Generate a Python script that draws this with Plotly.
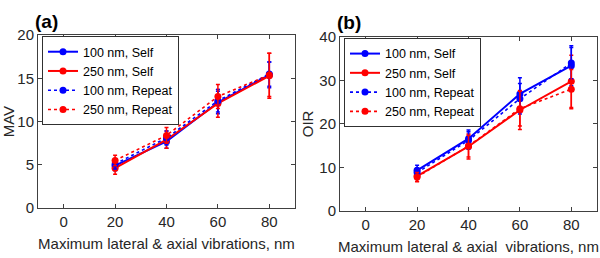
import plotly.graph_objects as go

x_vals = [20, 40, 60, 80]
series_names = ["100 nm, Self", "250 nm, Self", "100 nm, Repeat", "250 nm, Repeat"]
series_colors = ["#0000FF", "#FF0000", "#0000FF", "#FF0000"]
series_dash = ["solid", "solid", "dot", "dot"]

# Panel (a): MAV
mav_100_self = [4.9, 7.7, 12.2, 15.4]
mav_250_self = [4.6, 7.9, 12.1, 15.3]
mav_100_rep = [5.1, 8.1, 12.4, 15.5]
mav_250_rep = [5.5, 8.4, 12.9, 15.4]
mav_err_100_self = [0.6, 0.8, 1.3, 1.5]
mav_err_250_self = [0.7, 1.0, 1.6, 2.6]
mav_err_100_rep = [0.6, 0.8, 1.3, 1.4]
mav_err_250_rep = [0.6, 0.9, 1.4, 2.5]

# Panel (b): OIR
oir_100_self = [9.3, 16.6, 26.9, 33.4]
oir_250_self = [8.0, 14.8, 23.2, 29.8]
oir_100_rep = [8.8, 16.2, 25.8, 34.0]
oir_250_rep = [7.8, 14.9, 23.5, 28.0]
oir_err_100_self = [1.2, 2.0, 3.7, 4.6]
oir_err_250_self = [1.3, 2.9, 4.5, 6.0]
oir_err_100_rep = [1.0, 2.0, 3.5, 3.6]
oir_err_250_rep = [1.0, 2.5, 4.0, 4.5]

mav_vals = [mav_100_self, mav_250_self, mav_100_rep, mav_250_rep]
mav_errs = [mav_err_100_self, mav_err_250_self, mav_err_100_rep, mav_err_250_rep]
oir_vals = [oir_100_self, oir_250_self, oir_100_rep, oir_250_rep]
oir_errs = [oir_err_100_self, oir_err_250_self, oir_err_100_rep, oir_err_250_rep]

x_ticks = [0, 20, 40, 60, 80]
mav_ticks = [0, 5, 10, 15, 20]
oir_ticks = [0, 10, 20, 30, 40]

FONT = "Liberation Sans, Arial, sans-serif"
AX = "#404040"
TXT = "#262626"

fig = go.Figure()

def add_series(vals, errs, xa, ya, lg):
    for name, col, dash, ys, es in zip(series_names, series_colors, series_dash, vals, errs):
        fig.add_trace(go.Scatter(
            x=x_vals, y=ys, name=name, mode="lines+markers",
            line=dict(color=col, width=2 if dash == "solid" else 1.6, dash=dash),
            marker=dict(color=col, size=7, symbol="circle"),
            error_y=dict(type="data", array=es, visible=True, color=col, thickness=1.5, width=2),
            xaxis=xa, yaxis=ya, legend=lg,
        ))

add_series(mav_vals, mav_errs, "x", "y", "legend")
add_series(oir_vals, oir_errs, "x2", "y2", "legend2")

axis_common = dict(
    showgrid=False, zeroline=False, showline=True, linecolor=AX, linewidth=1,
    mirror="allticks", ticks="inside", ticklen=4, tickcolor=AX, tickwidth=1,
    tickfont=dict(family=FONT, size=15, color=TXT),
)
title_font = dict(family=FONT, size=15, color=TXT)
legend_common = dict(xanchor="left", yanchor="top", bgcolor="white",
                     bordercolor="#303030", borderwidth=1,
                     font=dict(family=FONT, size=12.5, color="#000000"),
                     tracegroupgap=0, itemwidth=30)

fig.update_layout(
    width=600, height=258,
    margin=dict(l=0, r=0, t=0, b=0),
    paper_bgcolor="white", plot_bgcolor="white",
    font=dict(family=FONT, size=15, color=TXT),
    xaxis=dict(domain=[38/600, 295/600], range=[-10, 90], tickvals=x_ticks, anchor="y",
               title=dict(text="Maximum lateral & axial vibrations, nm", standoff=9, font=title_font),
               **axis_common),
    yaxis=dict(domain=[1-213/258, 1-28/258], range=[0, 20], tickvals=mav_ticks, anchor="x",
               title=dict(text="MAV", standoff=2, font=title_font), **axis_common),
    xaxis2=dict(domain=[340/600, 597/600], range=[-10, 90], tickvals=x_ticks, anchor="y2",
                title=dict(text="Maximum lateral & axial&nbsp; vibrations, nm", standoff=9, font=title_font),
                **axis_common),
    yaxis2=dict(domain=[1-216/258, 1-30/258], range=[0, 40], tickvals=oir_ticks, anchor="x2",
                title=dict(text="OIR", standoff=2, font=title_font), **axis_common),
    legend=dict(x=42/600, y=1-29/258, **legend_common),
    legend2=dict(x=344/600, y=1-31/258, **legend_common),
    annotations=[
        dict(text="<b>(a)</b>", x=46/600, y=1-13/258, xref="paper", yref="paper",
             showarrow=False, xanchor="center", yanchor="middle",
             font=dict(family=FONT, size=19, color="#000000")),
        dict(text="<b>(b)</b>", x=349/600, y=1-14/258, xref="paper", yref="paper",
             showarrow=False, xanchor="center", yanchor="middle",
             font=dict(family=FONT, size=19, color="#000000")),
    ],
)

fig.write_html("out.html", config={"displayModeBar": False},
               post_script="document.body.style.margin='0px';")
